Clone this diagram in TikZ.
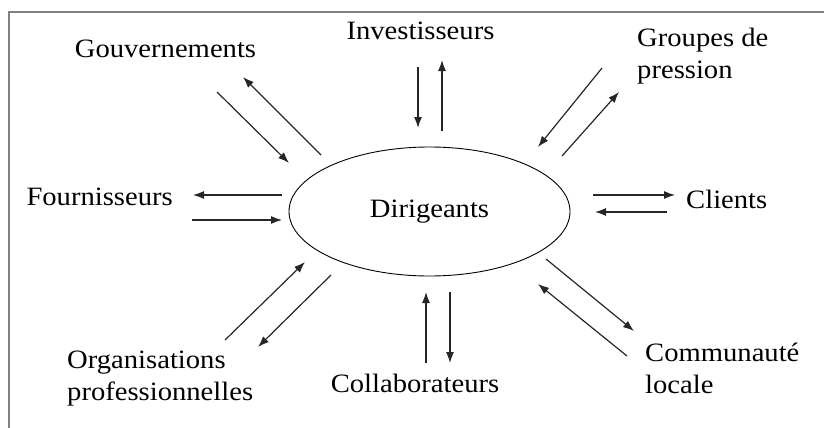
\documentclass[tikz,border=0pt]{standalone}
\usepackage{fontspec}
\setmainfont{Liberation Serif}[FakeStretch=1.08]
\usetikzlibrary{arrows.meta,shapes.geometric}
\begin{document}
\begin{tikzpicture}[x=1pt,y=-1pt,
  lbl/.style={inner sep=0pt, font=\fontsize{26.5}{32}\selectfont},
  arr/.style={-{Latex[length=11pt,width=8pt]}, line width=1.2pt, draw=black!85},
  frame/.style={draw=black!50, line width=1.5pt}]
\useasboundingbox (0,0) rectangle (824,428);
% frame (top and left sides visible)
\coordinate (fa) at (9,428);
\coordinate (fb) at (9,12);
\coordinate (fc) at (824,12);
\draw[frame] (fa) -- (fb) -- (fc);

% central ellipse
\node[ellipse, draw, line width=0.9pt, minimum width=281pt, minimum height=129pt, inner sep=0pt,
      font=\fontsize{26.5}{32}\selectfont] (dir) at (429.5,211.5) {\raisebox{-3pt}{Dirigeants}};

% labels
\node[lbl, anchor=base] (gouv) at (165.5,57) {Gouvernements};
\node[lbl, anchor=base] (inv) at (420.5,40) {Investisseurs};
\node[lbl, anchor=base west] (grp) at (637,46.5) {\begin{tabular}[t]{@{}l@{}}Groupes de\\pression\end{tabular}};
\node[lbl, anchor=base east] (four) at (173,205) {Fournisseurs};
\node[lbl, anchor=base west] (cli) at (686,208) {Clients};
\node[lbl, anchor=base west] (org) at (67,368) {\begin{tabular}[t]{@{}l@{}}Organisations\\professionnelles\end{tabular}};
\node[lbl, anchor=base] (col) at (415,392) {Collaborateurs};
\node[lbl, anchor=base west] (com) at (645,361) {\begin{tabular}[t]{@{}l@{}}Communauté\\locale\end{tabular}};

% arrow end points
\coordinate (g1s) at (321,155); \coordinate (g1e) at (243,77);
\coordinate (g2s) at (217,92);  \coordinate (g2e) at (289,163);
\coordinate (i1s) at (418,67);  \coordinate (i1e) at (418,128);
\coordinate (i2s) at (442,131); \coordinate (i2e) at (442,60);
\coordinate (p1s) at (602,68);  \coordinate (p1e) at (538,147);
\coordinate (p2s) at (562,156); \coordinate (p2e) at (619,92);
\coordinate (f1s) at (282,195); \coordinate (f1e) at (193,195);
\coordinate (f2s) at (192,220); \coordinate (f2e) at (282,220);
\coordinate (c1s) at (593,195); \coordinate (c1e) at (675,195);
\coordinate (c2s) at (667,212); \coordinate (c2e) at (595,212);
\coordinate (o1s) at (225,340); \coordinate (o1e) at (305,262);
\coordinate (o2s) at (331,275); \coordinate (o2e) at (258,347);
\coordinate (k1s) at (426,363); \coordinate (k1e) at (426,292);
\coordinate (k2s) at (450,292); \coordinate (k2e) at (450,363);
\coordinate (m1s) at (546,259); \coordinate (m1e) at (634,331);
\coordinate (m2s) at (627,356); \coordinate (m2e) at (538,284);

\draw[arr] (g1s) -- (g1e);
\draw[arr] (g2s) -- (g2e);
\draw[arr] (i1s) -- (i1e);
\draw[arr] (i2s) -- (i2e);
\draw[arr] (p1s) -- (p1e);
\draw[arr] (p2s) -- (p2e);
\draw[arr] (f1s) -- (f1e);
\draw[arr] (f2s) -- (f2e);
\draw[arr] (c1s) -- (c1e);
\draw[arr] (c2s) -- (c2e);
\draw[arr] (o1s) -- (o1e);
\draw[arr] (o2s) -- (o2e);
\draw[arr] (k1s) -- (k1e);
\draw[arr] (k2s) -- (k2e);
\draw[arr] (m1s) -- (m1e);
\draw[arr] (m2s) -- (m2e);
\end{tikzpicture}
\end{document}
